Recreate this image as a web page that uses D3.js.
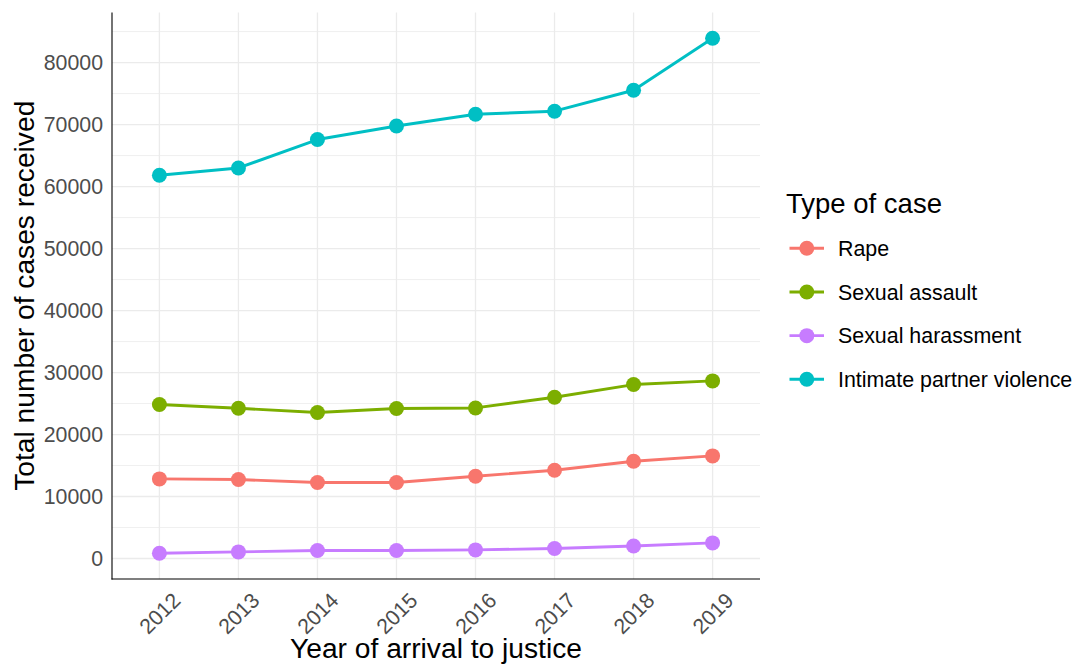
<!DOCTYPE html>
<html>
<head>
<meta charset="utf-8">
<script src="https://cdn.jsdelivr.net/npm/d3@7"></script>
<style>
  html, body { margin: 0; padding: 0; background: #fff; }
  svg { display: block; font-family: "Liberation Sans", Arial, sans-serif; }
</style>
</head>
<body>
<svg id="chart" width="1078" height="664"></svg>
<script>
// ---- data ----
const years = ["2012", "2013", "2014", "2015", "2016", "2017", "2018", "2019"];
const seriesNames = ["Rape", "Sexual assault", "Sexual harassment", "Intimate partner violence"];
const seriesColors = ["#F8766D", "#7CAE00", "#C77CFF", "#00BFC4"];
const rapeValues = [12840, 12740, 12260, 12260, 13270, 14240, 15690, 16550];
const assaultValues = [24840, 24240, 23550, 24190, 24290, 26020, 28060, 28650];
const harassmentValues = [850, 1070, 1290, 1290, 1390, 1610, 2030, 2520];
const ipvValues = [61820, 63000, 67580, 69770, 71660, 72150, 75530, 83920];
const yTicks = [0, 10000, 20000, 30000, 40000, 50000, 60000, 70000, 80000];
const yMinorTicks = [5000, 15000, 25000, 35000, 45000, 55000, 65000, 75000, 85000];
const xTitle = "Year of arrival to justice";
const yTitle = "Total number of cases received";
const legendTitle = "Type of case";

const seriesValues = [rapeValues, assaultValues, harassmentValues, ipvValues];
const series = seriesNames.map((name, i) => ({
  name, color: seriesColors[i],
  points: years.map((y, j) => ({ year: y, value: seriesValues[i][j] }))
}));

// ---- layout ----
const svg = d3.select("#chart");
const plot = { left: 112, right: 760, top: 12.5, bottom: 579 };

const allVals = seriesValues.flat();
const vmin = d3.min(allVals), vmax = d3.max(allVals);
const pad = (vmax - vmin) * 0.05;

const x = d3.scalePoint().domain(years).range([plot.left, plot.right]).padding(0.6);
const y = d3.scaleLinear().domain([vmin - pad, vmax + pad]).range([plot.bottom, plot.top]);

// grid
const grid = svg.append("g");
grid.selectAll("line.minor").data(yMinorTicks.filter(v => y(v) >= plot.top && y(v) <= plot.bottom))
  .join("line")
  .attr("x1", plot.left).attr("x2", plot.right)
  .attr("y1", d => y(d)).attr("y2", d => y(d))
  .attr("stroke", "#EBEBEB").attr("stroke-width", 0.8);
grid.selectAll("line.major").data(yTicks)
  .join("line")
  .attr("x1", plot.left).attr("x2", plot.right)
  .attr("y1", d => y(d)).attr("y2", d => y(d))
  .attr("stroke", "#EBEBEB").attr("stroke-width", 1.3);
grid.selectAll("line.vx").data(years)
  .join("line")
  .attr("x1", d => x(d)).attr("x2", d => x(d))
  .attr("y1", plot.top).attr("y2", plot.bottom)
  .attr("stroke", "#EBEBEB").attr("stroke-width", 1.3);

// axes
const yAxis = d3.axisLeft(y).tickValues(yTicks).tickSize(0).tickPadding(9).tickFormat(d3.format("d"));
const gy = svg.append("g").attr("transform", `translate(${plot.left},0)`).call(yAxis);
gy.select(".domain").remove();
gy.selectAll("text").attr("font-size", 21.3).attr("fill", "#4D4D4D")
  .attr("font-family", "Liberation Sans, Arial, sans-serif");

const xAxis = d3.axisBottom(x).tickSize(0);
const gx = svg.append("g").attr("transform", `translate(0,${plot.bottom})`).call(xAxis);
gx.select(".domain").remove();
gx.selectAll("text")
  .attr("font-size", 21.3).attr("fill", "#4D4D4D")
  .attr("font-family", "Liberation Sans, Arial, sans-serif")
  .attr("text-anchor", "end")
  .attr("y", 0).attr("dy", "0.72em")
  .attr("transform", d => `translate(11,12) rotate(-45)`);

svg.append("line").attr("x1", plot.left).attr("x2", plot.left)
  .attr("y1", plot.top).attr("y2", plot.bottom + 0.5)
  .attr("stroke", "#000").attr("stroke-width", 1.1);
svg.append("line").attr("x1", plot.left - 0.5).attr("x2", plot.right)
  .attr("y1", plot.bottom).attr("y2", plot.bottom)
  .attr("stroke", "#000").attr("stroke-width", 1.1);

// lines + points
const line = d3.line().x(d => x(d.year)).y(d => y(d.value));
const sg = svg.append("g");
series.forEach(s => {
  sg.append("path").datum(s.points)
    .attr("d", line).attr("fill", "none")
    .attr("stroke", s.color).attr("stroke-width", 2.9)
    .attr("stroke-linejoin", "round");
  sg.selectAll(null).data(s.points).join("circle")
    .attr("cx", d => x(d.year)).attr("cy", d => y(d.value))
    .attr("r", 7.5).attr("fill", s.color);
});

// titles
svg.append("text").attr("x", (plot.left + plot.right) / 2).attr("y", 658)
  .attr("text-anchor", "middle").attr("font-size", 28.2).attr("fill", "#000")
  .text(xTitle);
svg.append("text")
  .attr("transform", `translate(33.5,${(plot.top + plot.bottom) / 2}) rotate(-90)`)
  .attr("text-anchor", "middle").attr("font-size", 28.2).attr("fill", "#000")
  .text(yTitle);

// legend
const lg = svg.append("g");
lg.append("text").attr("x", 786).attr("y", 213).attr("font-size", 27.5).attr("fill", "#000")
  .text(legendTitle);
const rowY = d3.scalePoint().domain(seriesNames).range([248.3, 379.3]);
const items = lg.selectAll("g.item").data(series).join("g")
  .attr("transform", d => `translate(0,${rowY(d.name)})`);
items.append("line").attr("x1", 789.5).attr("x2", 824).attr("y1", 0).attr("y2", 0)
  .attr("stroke", d => d.color).attr("stroke-width", 2.9);
items.append("circle").attr("cx", 806.8).attr("cy", 0).attr("r", 7.5).attr("fill", d => d.color);
items.append("text").attr("x", 838).attr("y", 0).attr("dy", "0.36em")
  .attr("font-size", 21.4).attr("fill", "#000").text(d => d.name);
</script>
</body>
</html>
